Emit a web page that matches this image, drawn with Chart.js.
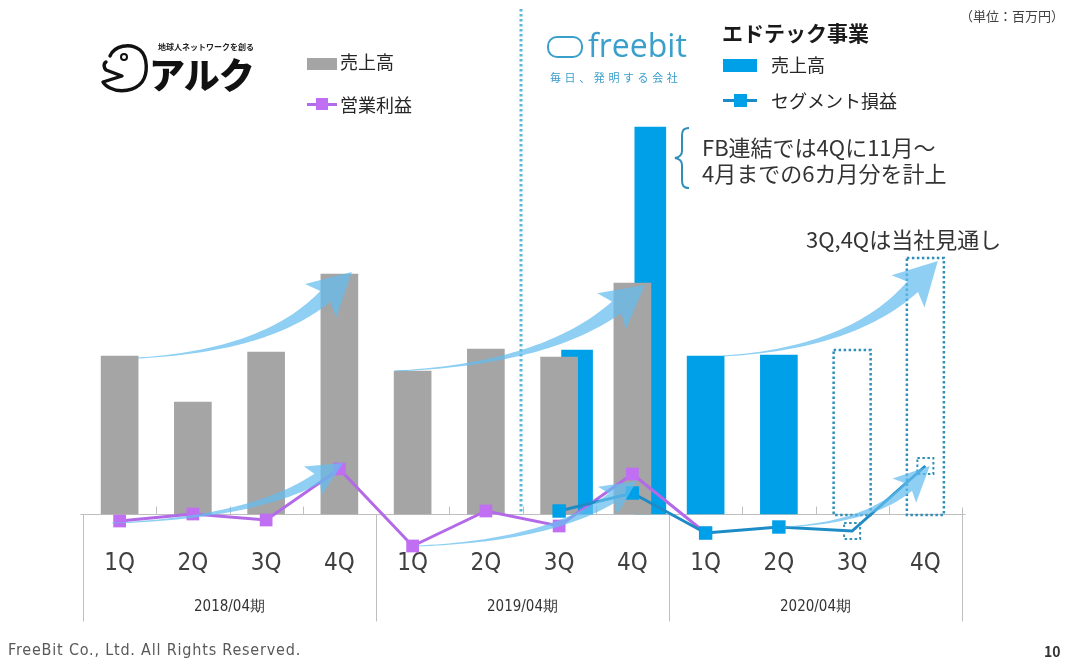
<!DOCTYPE html>
<html lang="ja">
<head>
<meta charset="utf-8">
<title>アルク / エドテック事業 四半期推移</title>
<script src="https://cdn.jsdelivr.net/npm/chart.js@4.4.1/dist/chart.umd.min.js"></script>
<style>
  html, body { margin: 0; padding: 0; background: #fff; }
  body { width: 1075px; height: 660px; position: relative; overflow: hidden;
         font-family: "Noto Sans CJK JP", "Noto Sans", sans-serif; color: #262626; }
  #chart { position: absolute; left: 0; top: 0; }
  .t { position: absolute; white-space: nowrap; line-height: 1; }
  .sw { position: absolute; }
</style>
</head>
<body>
<canvas id="chart" width="1075" height="660"></canvas>

<!-- unit -->
<div class="t" style="left:960px; top:9px; font-size:13px; color:#404040;">（単位：百万円）</div>

<!-- ALC logo -->
<svg class="sw" style="left:100px; top:40px;" width="50" height="56" viewBox="0 0 50 56">
  <path d="M10 16 C14 6 30 2 40 10 C48 17 48 34 42 42 C35 51 20 53 10 48 C6 46 4 44 3 42 L22 36 L6 30 C4 28 3 24 6 22"
        fill="none" stroke="#111" stroke-width="3.4" stroke-linecap="round" stroke-linejoin="round"/>
  <circle cx="24" cy="17" r="3" fill="none" stroke="#111" stroke-width="2"/>
</svg>
<div class="t" style="left:158px; top:43px; font-size:8px; font-weight:700; color:#222;">地球人ネットワークを創る</div>
<div class="t" style="left:149px; top:55px; font-size:36px; font-weight:900; letter-spacing:-1px; color:#111;">アルク</div>

<!-- ALC legend -->
<div class="sw" style="left:307px; top:58px; width:30px; height:12px; background:#a5a5a5;"></div>
<div class="t" style="left:340px; top:52px; font-size:18px;">売上高</div>
<div class="sw" style="left:307px; top:103px; width:30px; height:3px; background:#b36ae8;"></div>
<div class="sw" style="left:316px; top:98px; width:12px; height:12px; background:#c06ff2;"></div>
<div class="t" style="left:340px; top:95px; font-size:18px;">営業利益</div>

<!-- freebit logo -->
<div class="sw" style="left:547px; top:36px; width:32px; height:18px; border:2.5px solid #3a9fcb; border-radius:10px;"></div>
<div class="t" style="left:588px; top:29px; font-size:32px; font-family:'Open Sans', sans-serif; color:#3a9fcb;">freebit</div>
<div class="t" style="left:550px; top:72px; font-size:11px; letter-spacing:3.6px; color:#3a9fcb;">毎日、発明する会社</div>

<!-- EdTech legend -->
<div class="t" style="left:722px; top:22px; font-size:21px; font-weight:700; color:#1a1a1a;">エドテック事業</div>
<div class="sw" style="left:723px; top:59px; width:34px; height:13px; background:#00a0e9;"></div>
<div class="t" style="left:771px; top:55px; font-size:18px;">売上高</div>
<div class="sw" style="left:723px; top:99px; width:34px; height:3px; background:#1d8cc6;"></div>
<div class="sw" style="left:734px; top:94px; width:13px; height:13px; background:#00a0e9;"></div>
<div class="t" style="left:771px; top:91px; font-size:18px;">セグメント損益</div>

<!-- notes -->
<svg class="sw" style="left:672px; top:126px;" width="20" height="64" viewBox="0 0 20 64">
  <path d="M17 2 C11 2 10 5 10 10 L10 25 C10 29 8 31 3 32 C8 33 10 35 10 39 L10 54 C10 59 11 62 17 62"
        fill="none" stroke="#2f8fb8" stroke-width="2"/>
</svg>
<div class="t" style="left:702px; top:135px; font-size:22px; color:#333;">FB連結では4Qに11月～</div>
<div class="t" style="left:702px; top:161px; font-size:22px; color:#333;">4月までの6カ月分を計上</div>
<div class="t" style="left:806px; top:227px; font-size:22px; color:#333;">3Q,4Qは当社見通し</div>

<!-- footer -->
<div class="t" style="left:8px; top:642px; font-size:16px; letter-spacing:0.8px; font-family:'Liberation Sans Narrow','DejaVu Sans Condensed',sans-serif; color:#595959;">FreeBit Co., Ltd. All Rights Reserved.</div>
<div class="t" style="left:1044px; top:644px; font-size:14px; font-weight:700; color:#333;">10</div>

<script>
// quarter labels and fiscal year groups
const QUARTERS = ['1Q', '2Q', '3Q', '4Q', '1Q', '2Q', '3Q', '4Q', '1Q', '2Q', '3Q', '4Q'];
const FISCAL_YEARS = ['2018/04期', '2019/04期', '2020/04期'];

// アルク
const ALC_SALES  = [158, 112, 162, 240, 143, 165, 157, 231, null, null, null, null];
const ALC_PROFIT = [-7, 0, -6, 45, -32, 3, -12, 40, -19, null, null, null];

// エドテック事業 (freebit)
const EDTECH_SALES          = [null, null, null, null, null, null, 164, 387, 158, 159, null, null];
const EDTECH_SALES_FORECAST = [null, null, null, null, null, null, null, null, null, null, 164, 256];
const EDTECH_PROFIT         = [null, null, null, null, null, null, 3, 21, -19, -13, -17, 48];

// trend arrows drawn on the slide: [category, value] anchors
const TREND_ARROWS = [
  { from: [0.24, 156], to: [3.17, 242], body: 15, head: [36, 23] },
  { from: [-0.1, -9],  to: [3.05, 51],  body: 11, head: [30, 17] },
  { from: [3.76, 143], to: [7.17, 229], body: 15, head: [36, 23] },
  { from: [4.06, -32], to: [7.06, 33],  body: 11, head: [30, 17] },
  { from: [8.24, 158], to: [11.17, 253], body: 15, head: [36, 23] },
  { from: [9.08, -13], to: [11.06, 48], body: 11, head: [30, 17] }
];

const GRAY = '#a5a5a5';
const BLUE = '#00a0e9';
const PURPLE = '#b36ae8';
const DOT = '#2f8fb8';
const AXIS_LINE = '#bfbfbf';
const OVERLAP_SHIFT = 0.245;   // freebit bar sits behind / right of the ALC bar
const AXIS_FONT = "'Liberation Sans Narrow', 'DejaVu Sans Condensed', sans-serif";

const isForecast = i => EDTECH_SALES_FORECAST[i] != null;
const firstEdtech = EDTECH_SALES.findIndex(v => v != null);

const overlapBars = [], soloBars = [], forecastBars = [];
EDTECH_SALES.forEach((v, i) => {
  if (v == null) return;
  if (ALC_SALES[i] != null) overlapBars.push({ x: i + OVERLAP_SHIFT, y: v });
  else soloBars.push({ x: i, y: v });
});
EDTECH_SALES_FORECAST.forEach((v, i) => { if (v != null) forecastBars.push({ x: i, y: v }); });

function dotted(ctx, width, color) {
  ctx.lineWidth = width;
  ctx.strokeStyle = color;
  ctx.setLineDash([2.5, 2.5]);
}

function drawTrendArrow(ctx, S, T, a) {
  const C = { x: S.x + (T.x - S.x) * 0.6, y: S.y - (S.y - T.y) * 0.08 };
  let ux = T.x - C.x, uy = T.y - C.y;
  const ul = Math.hypot(ux, uy); ux /= ul; uy /= ul;
  const B = { x: T.x - ux * a.head[0], y: T.y - uy * a.head[0] };
  const left = [], right = [], N = 40;
  for (let i = 0; i <= N; i++) {
    const t = i / N, mt = 1 - t;
    const px = mt * mt * S.x + 2 * mt * t * C.x + t * t * B.x;
    const py = mt * mt * S.y + 2 * mt * t * C.y + t * t * B.y;
    const dx = 2 * mt * (C.x - S.x) + 2 * t * (B.x - C.x);
    const dy = 2 * mt * (C.y - S.y) + 2 * t * (B.y - C.y);
    const l = Math.hypot(dx, dy), nx = -dy / l, ny = dx / l;
    const w = (1 + (a.body - 1) * Math.pow(t, 1.6)) / 2;
    left.push([px + nx * w, py + ny * w]);
    right.push([px - nx * w, py - ny * w]);
  }
  const nx = -uy, ny = ux, hw = a.head[1], sw = a.head[0] * 0.18;
  ctx.beginPath();
  left.forEach((p, i) => i ? ctx.lineTo(p[0], p[1]) : ctx.moveTo(p[0], p[1]));
  ctx.lineTo(B.x + nx * hw - ux * sw, B.y + ny * hw - uy * sw);
  ctx.lineTo(T.x, T.y);
  ctx.lineTo(B.x - nx * hw - ux * sw, B.y - ny * hw - uy * sw);
  for (let i = right.length - 1; i >= 0; i--) ctx.lineTo(right[i][0], right[i][1]);
  ctx.closePath();
  ctx.fill();
}

const slideDecor = {
  id: 'slideDecor',
  beforeDatasetsDraw(chart) {
    const { ctx, scales: { x, y } } = chart;
    const step = x.getPixelForValue(1) - x.getPixelForValue(0);
    const edge = i => Math.round(x.getPixelForValue(0) + (i - 0.5) * step) + 0.5;
    const base = Math.round(y.getPixelForValue(0)) + 0.5;
    ctx.save();
    // category axis line, small ticks, fiscal-year separators
    ctx.strokeStyle = AXIS_LINE;
    ctx.lineWidth = 1;
    ctx.beginPath();
    ctx.moveTo(edge(0) - 3, base);
    ctx.lineTo(edge(QUARTERS.length) + 3, base);
    for (let i = 0; i <= QUARTERS.length; i++) {
      if (i % 4 === 0) {
        ctx.moveTo(edge(i), base - (i === QUARTERS.length ? 7 : 0));
        ctx.lineTo(edge(i), base + 107);
      } else {
        ctx.moveTo(edge(i), base - 8);
        ctx.lineTo(edge(i), base);
      }
    }
    ctx.stroke();
    // divider where freebit figures start
    const dx = edge(firstEdtech) - 2.5;
    dotted(ctx, 3, '#5cb8da');
    ctx.beginPath();
    ctx.moveTo(dx, 9);
    ctx.lineTo(dx, base);
    ctx.stroke();
    ctx.restore();
  },
  afterDatasetsDraw(chart) {
    const { ctx, scales: { x, y } } = chart;
    const step = x.getPixelForValue(1) - x.getPixelForValue(0);
    const px = v => x.getPixelForValue(0) + v * step;
    ctx.save();
    // forecast bars: dotted outline only
    dotted(ctx, 2.5, DOT);
    chart.getDatasetMeta(5).data.forEach(el => {
      ctx.strokeRect(el.x - el.width / 2, el.y, el.width, el.base - el.y + 1);
    });
    // forecast profit points
    dotted(ctx, 2, DOT);
    const lineMeta = chart.getDatasetMeta(0);
    EDTECH_PROFIT.forEach((v, i) => {
      if (v == null || !isForecast(i)) return;
      const p = lineMeta.data[i];
      ctx.strokeRect(p.x - 8, p.y - 8, 16, 16);
    });
    ctx.setLineDash([]);
    // trend arrows
    ctx.fillStyle = 'rgba(98,188,238,0.72)';
    TREND_ARROWS.forEach(a => {
      drawTrendArrow(ctx,
        { x: px(a.from[0]), y: y.getPixelForValue(a.from[1]) },
        { x: px(a.to[0]), y: y.getPixelForValue(a.to[1]) }, a);
    });
    ctx.restore();
  }
};

new Chart(document.getElementById('chart'), {
  data: {
    labels: QUARTERS,
    datasets: [
      {
        type: 'line', label: 'セグメント損益', data: EDTECH_PROFIT,
        borderColor: '#1d8cc6', borderWidth: 3, tension: 0,
        pointStyle: 'rect', pointRadius: ctx => isForecast(ctx.dataIndex) ? 0 : 9.5,
        pointBackgroundColor: BLUE, pointBorderWidth: 0, clip: false, order: 0
      },
      {
        type: 'line', label: '営業利益', data: ALC_PROFIT,
        borderColor: PURPLE, borderWidth: 3, tension: 0,
        pointStyle: 'rect', pointRadius: 9, pointBackgroundColor: '#c06ff2',
        pointBorderWidth: 0, clip: false, order: 1
      },
      {
        type: 'bar', label: '売上高', data: ALC_SALES, backgroundColor: GRAY,
        barThickness: 37, grouped: false, order: 2
      },
      {
        type: 'bar', label: 'エドテック売上高', data: overlapBars, xAxisID: 'xb',
        backgroundColor: BLUE, barThickness: 31, grouped: false, order: 3
      },
      {
        type: 'bar', label: 'エドテック売上高', data: soloBars, xAxisID: 'xb',
        backgroundColor: BLUE, barThickness: 37, grouped: false, order: 3
      },
      {
        type: 'bar', label: '見通し', data: forecastBars, xAxisID: 'xb',
        backgroundColor: 'rgba(0,0,0,0)', barThickness: 37, grouped: false, order: 4
      }
    ]
  },
  options: {
    responsive: false,
    animation: false,
    events: [],
    layout: { padding: { left: 83, right: 113, top: 114, bottom: 36 } },
    plugins: { legend: { display: false }, tooltip: { enabled: false } },
    scales: {
      y: { display: false, min: -34, max: 400 },
      x: {
        type: 'category', position: 'bottom', weight: 0, offset: true,
        grid: { display: false }, border: { display: false },
        ticks: { color: '#404040', padding: -7, font: { family: AXIS_FONT, size: 24 } },
        afterFit: s => { s.height = 36; }
      },
      xYear: {
        type: 'category', labels: FISCAL_YEARS, position: 'bottom', weight: 1, offset: true,
        grid: { display: false }, border: { display: false },
        ticks: { color: '#333', padding: 6, font: { family: AXIS_FONT, size: 15 } },
        afterFit: s => { s.height = 40; }
      },
      xb: { type: 'linear', display: false, min: -0.5, max: 11.5, offset: false, grid: { offset: false } }
    }
  },
  plugins: [slideDecor]
});
</script>
</body>
</html>
